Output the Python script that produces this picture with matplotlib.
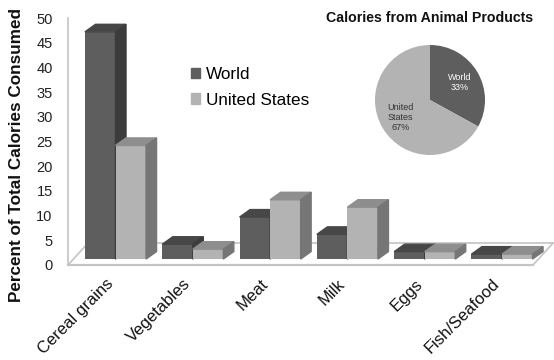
import matplotlib
matplotlib.use("Agg")
import matplotlib.pyplot as plt
from matplotlib.patches import Polygon, Patch
from matplotlib.transforms import ScaledTranslation
import numpy as np

plt.rcParams['font.family'] = ['Liberation Sans', 'DejaVu Sans']

# data
categories = ['Cereal grains', 'Vegetables', 'Meat', 'Milk', 'Eggs', 'Fish/Seafood']
world = [46, 3, 8.5, 5, 1.5, 1]
us = [23, 2, 12, 10.5, 1.5, 1]
series_names = ['World', 'United States']
pie_names = ['World', 'United\nStates']
pie_values = [33, 67]
yticks = list(range(0, 51, 5))

# colours (front, top, side)
c_world = ('#5e5e5e', '#474747', '#3c3c3c')
c_us = ('#b3b3b3', '#8e8e8e', '#767676')

W, H = 554, 360
fig = plt.figure(figsize=(W / 100, H / 100), dpi=100)

# main axes placed in pixel terms
left_px, right_px, bot_px, top_px = 68, 533, 265, 18
ax = fig.add_axes([left_px / W, 1 - bot_px / H, (right_px - left_px) / W, (bot_px - top_px) / H])
xl = ((left_px - 115.5) / 77.3, (right_px - 115.5) / 77.3)
shift = 1.2          # front of floor is this far below bar bottoms
ax.set_xlim(*xl)
ax.set_ylim(-shift, 50 - shift)
for s in ax.spines.values():
    s.set_visible(False)

bw = 0.395     # bar width
dx, dy = 0.136, 1.52     # bar depth offset
fdx, fdy = 0.26, 4.45    # floor depth offset

# floor / wall lines
gc = '#c4c4c4'
ax.plot([xl[0], xl[1]], [-shift, -shift], color=gc, lw=1.6, zorder=1, clip_on=False)
ax.plot([xl[0] + fdx, xl[1] + fdx], [-shift + fdy, -shift + fdy], color=gc, lw=1.2, zorder=1, clip_on=False)
ax.plot([xl[0], xl[0] + fdx], [-shift, -shift + fdy], color=gc, lw=1.2, zorder=1, clip_on=False)
ax.plot([xl[1], xl[1] + fdx], [-shift, -shift + fdy], color=gc, lw=1.2, zorder=1, clip_on=False)
ax.plot([xl[0], xl[0]], [-shift, 50 - shift], color=gc, lw=1.2, zorder=1, clip_on=False)

x = np.arange(len(categories))
z = 2
for i in range(len(categories)):
    for k, (vals, cols) in enumerate([(world, c_world), (us, c_us)]):
        x0 = x[i] - bw + k * bw
        x1 = x0 + bw
        h = vals[i]
        ax.bar(x0, h, bw, align='edge', color=cols[0], zorder=z, clip_on=False)
        ax.add_patch(Polygon([(x0, h), (x0 + dx, h + dy), (x1 + dx, h + dy), (x1, h)],
                             closed=True, color=cols[1], zorder=z, clip_on=False))
        ax.add_patch(Polygon([(x1, 0), (x1 + dx, dy), (x1 + dx, h + dy), (x1, h)],
                             closed=True, color=cols[2], zorder=z, clip_on=False))
        z += 0.1

ax.set_yticks([v - shift for v in yticks])
ax.set_yticklabels([str(v) for v in yticks], fontsize=10.5, color='#222222')
ax.tick_params(axis='y', length=0, pad=11)
ax.set_xticks(x)
ax.set_xticklabels(categories, rotation=45, ha='right', rotation_mode='anchor',
                   fontsize=12, color='#111111')
ax.tick_params(axis='x', length=0, pad=8)
for lab in ax.get_xticklabels():
    lab.set_transform(lab.get_transform() + ScaledTranslation(-10 / 100, 0, fig.dpi_scale_trans))

fig.text(17 / W, 1 - 155 / H, 'Percent of Total Calories Consumed', rotation=90,
         ha='center', va='center', fontsize=12.3, fontweight='bold', color='#111111')

# legend
handles = [Patch(color=c_world[0]), Patch(color=c_us[0])]
fig.legend(handles, series_names, loc='upper left', bbox_to_anchor=(191 / W, 1 - 67 / H),
           frameon=False, fontsize=12.3, handlelength=0.55, handleheight=0.55,
           handletextpad=0.35, labelspacing=0.62, borderpad=0, borderaxespad=0)

# pie inset
cx, cy, r = 430, 100, 55
pax = fig.add_axes([(cx - r) / W, 1 - (cy + r) / H, 2 * r / W, 2 * r / H])
labels = [f'{n}\n{v}%' for n, v in zip(pie_names, pie_values)]
wedges, texts = pax.pie(pie_values, labels=labels, startangle=90, counterclock=False,
                        colors=[c_world[0], c_us[0]], labeldistance=0.63,
                        textprops=dict(fontsize=6.5, linespacing=1.1),
                        wedgeprops=dict(linewidth=0))
for t, col in zip(texts, ['white', '#333333']):
    t.set_ha('center')
    t.set_color(col)
pax.set_xlim(-1, 1)
pax.set_ylim(-1, 1)
pax.set_aspect('equal')
fig.text(430 / W, 1 - 18 / H, 'Calories from Animal Products', ha='center', va='center',
         fontsize=10.2, fontweight='bold', color='#111111')

fig.savefig('out.png', dpi=100)
